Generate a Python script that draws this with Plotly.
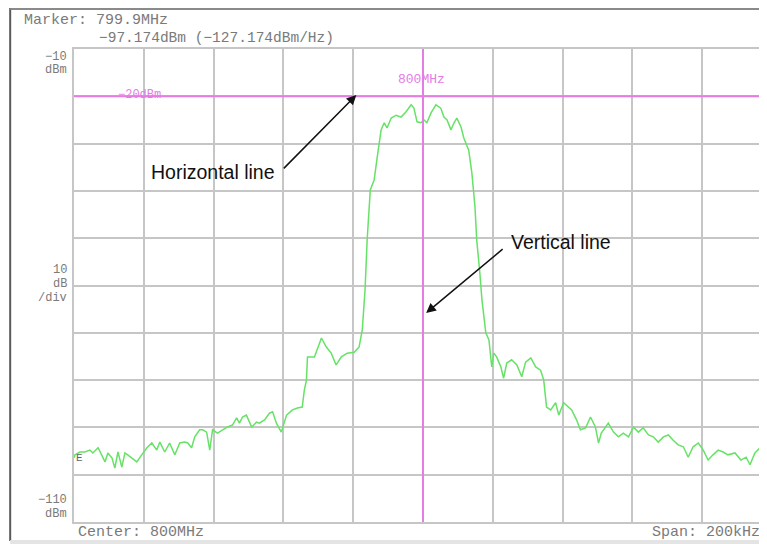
import plotly.graph_objects as go

# Frequency offset from 800 MHz centre (kHz) and level (dBm)
freq_khz = [-100.0, -99.7, -98.3, -96.9, -95.4, -94.6, -93.1, -92.0, -91.1, -90.3, -89.1, -88.3, -87.4, -86.3,
            -85.4, -84.6, -83.4, -82.0, -80.6, -79.1, -77.7, -76.3, -75.4, -74.0, -72.6, -71.1, -69.7,
            -68.3, -67.4, -66.3, -65.4, -64.0, -63.1, -62.0, -61.1, -60.3, -58.9, -57.4, -56.0, -54.6,
            -53.4, -52.6, -51.7, -50.6, -49.1, -47.7, -46.9, -45.4, -44.0, -43.1, -42.0, -40.6, -39.1,
            -37.4, -36.0, -34.6, -34.0, -33.4, -33.1, -31.1, -29.1, -27.7, -26.3, -24.9, -23.4, -21.7,
            -19.7, -18.3, -17.4, -16.6, -16.0, -15.1, -14.0, -13.1, -12.0, -11.1, -10.3, -9.1, -7.7,
            -6.3, -4.9, -3.4, -2.6, -1.7, -0.6, 0.3, 1.1, 2.3, 3.7, 5.1, 6.0, 6.9, 8.0, 8.9, 9.7, 10.9,
            11.7, 13.1, 14.0, 14.9, 15.4, 16.3, 16.9, 18.0, 18.9, 19.7, 20.3, 21.1, 22.3, 23.1, 24.0,
            25.4, 26.9, 28.3, 29.4, 30.9, 32.3, 33.7, 34.6, 35.4, 36.6, 38.0, 38.9, 40.3, 41.7, 42.6,
            44.0, 45.1, 46.6, 48.0, 49.4, 50.3, 51.1, 53.1, 54.6, 56.0, 57.4, 58.9, 60.3, 61.7, 63.1,
            64.6, 66.0, 67.4, 68.9, 70.3, 71.7, 73.1, 74.6, 76.0, 77.4, 78.9, 80.3, 81.7, 83.1, 84.6,
            86.0, 87.4, 89.4, 91.1, 92.6, 93.7, 95.1, 96.6, 98.0, 100.0]
level_dbm = [-96.4, -95.8, -95.2, -95.2, -94.8, -95.4, -94.3, -95.8, -97.3, -95.4, -96.5, -98.6, -95.2, -98.4,
             -95.4, -95.8, -96.5, -97.3, -95.8, -94.3, -93.3, -94.8, -93.1, -95.2, -93.3, -95.8, -93.3,
             -93.1, -93.3, -94.3, -92.0, -90.5, -90.5, -91.0, -94.8, -90.5, -91.2, -90.5, -89.9, -89.5,
             -88.0, -89.1, -87.8, -87.4, -89.9, -88.9, -89.1, -88.4, -87.0, -86.7, -89.1, -91.0, -87.4,
             -86.3, -85.9, -85.7, -82.1, -80.0, -75.1, -75.1, -71.1, -73.0, -74.3, -76.8, -75.1, -74.3,
             -74.1, -73.0, -69.4, -60.9, -50.4, -39.8, -37.7, -32.8, -27.1, -25.6, -26.7, -24.6, -24.0,
             -24.4, -23.3, -21.8, -22.5, -25.4, -25.6, -25.0, -25.6, -23.5, -21.8, -22.5, -24.4, -25.0,
             -27.1, -25.6, -24.6, -26.5, -28.8, -31.4, -36.2, -43.4, -50.4, -57.4, -63.1, -70.0, -71.5,
             -77.2, -74.3, -75.1, -77.2, -79.6, -76.4, -75.7, -76.8, -79.3, -76.2, -75.3, -77.2, -77.9,
             -80.0, -85.7, -86.3, -84.8, -87.4, -84.8, -85.7, -86.3, -88.4, -90.5, -90.1, -87.8, -89.9,
             -93.3, -91.2, -89.1, -91.0, -92.0, -91.2, -92.0, -89.9, -91.0, -90.1, -91.6, -92.0, -93.1,
             -92.0, -91.6, -92.7, -93.7, -94.1, -96.3, -94.1, -93.3, -94.8, -96.9, -95.8, -94.8, -95.2,
             -95.8, -95.4, -96.9, -96.3, -97.9, -95.4, -94.3, -96.9, -95.6]

x_range = [-100, 98]
y_range = [-110, -10]
ref_level = -20          # horizontal display line (dBm)
centre_marker = 0        # vertical display line (kHz offset)

# page body has an 8px margin, so the figure is shrunk by that offset
OFF = 8
W, H = 767 - OFF, 544 - OFF
L, R, T, B = 74, 767, 49, 522   # plot area in page pixels

def px(xp):
    return (xp - L) / (R - L)

def py(yp):
    return (B - yp) / (B - T)

mono = "Liberation Mono, DejaVu Sans Mono, monospace"
grey_txt = "#7a7a7a"
magenta = "#e47ce4"

fig = go.Figure()
fig.add_trace(go.Scatter(x=freq_khz, y=level_dbm, mode="lines",
                         line=dict(color="#66e266", width=1.5), hoverinfo="skip"))

fig.add_shape(type="line", xref="x", yref="y", x0=x_range[0], x1=x_range[1] + 10,
              y0=ref_level, y1=ref_level, line=dict(color=magenta, width=2))
fig.add_shape(type="line", xref="x", yref="y", x0=centre_marker, x1=centre_marker,
              y0=y_range[0], y1=y_range[1], line=dict(color=magenta, width=2))

# screenshot frame
fig.add_shape(type="line", xref="paper", yref="paper", x0=px(10), x1=px(10), y0=py(8), y1=py(541),
              line=dict(color="#5a5a5a", width=2))
fig.add_shape(type="line", xref="paper", yref="paper", x0=px(10), x1=px(767), y0=py(9), y1=py(9),
              line=dict(color="#8a8a8a", width=2))
fig.add_shape(type="rect", xref="paper", yref="paper", x0=px(10), x1=px(767), y0=py(540), y1=py(544),
              line=dict(width=0), fillcolor="#e4e4e4")

ann = []
def t(xp, yp, text, anchor="left", size=14, color=grey_txt, family=mono):
    ann.append(dict(xref="paper", yref="paper", x=px(xp), y=py(yp), text=text, showarrow=False,
                    xanchor=anchor, yanchor="middle", font=dict(family=family, size=size, color=color)))

t(22, 21, "Marker: 799.9MHz", size=15)
t(97, 38, "\u221297.174dBm (\u2212127.174dBm/Hz)", size=14.5)
t(69, 57, "\u221210", "right", 12)
t(69, 70, "dBm", "right", 12)
t(69, 270, "10", "right", 12)
t(69, 284, "dB", "right", 12)
t(69, 298, "/div", "right", 12)
t(69, 500, "\u2212110", "right", 12)
t(69, 514, "dBm", "right", 12)
t(76, 532, "Center: 800MHz", size=15)
t(764, 532, "Span: 200kHz", "right", 15)
t(116, 95, "\u221220dBm", "left", 12, magenta)
t(423, 80, "800MHz", "center", 13, magenta)
t(74, 458, "E", "left", 11, "#666")

sans = "Liberation Sans, Arial, Helvetica, sans-serif"
t(278, 172, "Horizontal line", "right", 19.5, "#111", sans)
t(510, 242, "Vertical line", "left", 19.5, "#111", sans)

ann.append(dict(xref="x", yref="y", x=-19.1, y=-19.7, ax=-74, ay=75, text="", showarrow=True,
                arrowhead=2, arrowsize=1.3, arrowwidth=1.5, arrowcolor="#111"))
ann.append(dict(xref="x", yref="y", x=0.9, y=-65.8, ax=78, ay=-65, text="", showarrow=True,
                arrowhead=2, arrowsize=1.3, arrowwidth=1.5, arrowcolor="#111"))

grid = "#c6c6c6"
fig.update_layout(
    width=W, height=H,
    margin=dict(l=L - OFF, r=W - (R - OFF), t=T - OFF, b=H - (B - OFF), pad=0),
    paper_bgcolor="white", plot_bgcolor="white", showlegend=False,
    annotations=ann,
    xaxis=dict(range=x_range, dtick=20, tick0=-100, showticklabels=False, ticks="",
               showgrid=True, gridcolor=grid, gridwidth=1.5, zeroline=False,
               showline=True, linecolor=grid, linewidth=2, mirror=True),
    yaxis=dict(range=y_range, dtick=10, tick0=-110, showticklabels=False, ticks="",
               showgrid=True, gridcolor=grid, gridwidth=1.5, zeroline=False,
               showline=True, linecolor=grid, linewidth=2, mirror=True),
)

fig.write_html("out.html")
